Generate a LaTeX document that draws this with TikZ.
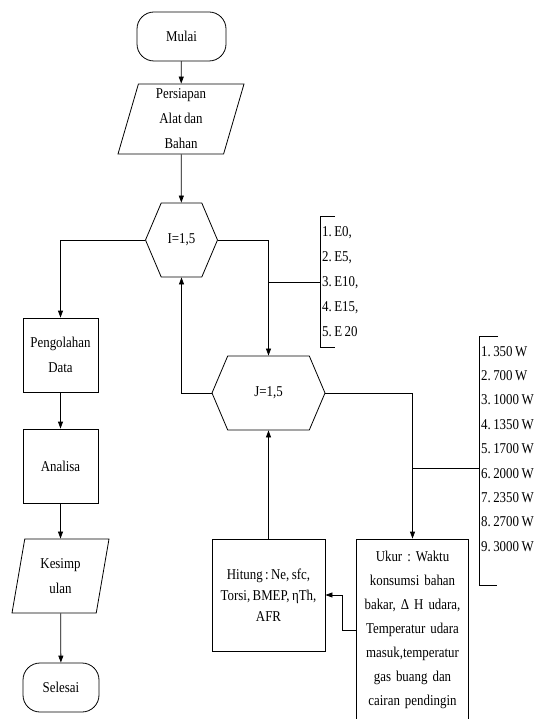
\documentclass[tikz,border=0pt]{standalone}
\usepackage{fontspec}
\setmainfont{Liberation Serif}[FakeStretch=0.86, WordSpace=0.75]
\usepackage{tikz}
\usetikzlibrary{shapes.geometric, shapes.symbols, arrows.meta}
\tikzstyle{flowbox} = [rectangle, draw=black, line width=0.8pt, align=center]
\usetikzlibrary{positioning, calc}
\frenchspacing

\begin{document}
\begin{tikzpicture}[x=1pt, y=-1pt, font=\fontsize{15}{24}\selectfont, >={Triangle[length=7pt,width=5pt]}]
            \tikzstyle{terminal} = [flowbox, rounded corners=17pt, minimum width=89pt, minimum height=49pt]
            \tikzstyle{process} = [flowbox, minimum width=75pt, minimum height=74pt]
            \tikzstyle{io} = [flowbox, trapezium, trapezium left angle=73, trapezium right angle=107, trapezium stretches body, minimum height=70pt, font=\fontsize{15}{25}\selectfont]
            \tikzstyle{loop} = [flowbox, signal, signal to=west and east, signal pointer angle=134, minimum height=74pt]
            \tikzstyle{list} = [align=left, inner xsep=2pt, anchor=west]
            \tikzstyle{line} = [line width=0.8pt]

            \useasboundingbox (0,0) rectangle (536,719);

            \node[terminal] (mulai) at (181.5,36.5) {Mulai};
            \node[io, minimum width=126pt] (persiapan) at (181,119) {Persiapan\\Alat dan\\Bahan};
            \node[loop, minimum width=72pt] (iLoop) at (181.5,240) {I=1,5};
            \node[list, minimum height=131pt, font=\fontsize{15}{25}\selectfont] (eList) at (320,282) {1. E0,\\2. E5,\\3. E10,\\4. E15,\\5. E 20};

            \node[loop, minimum width=113pt] (jLoop) at (268.5,393) {J=1,5};
            \node[list, minimum height=248pt, font=\fontsize{15}{24.4}\selectfont] (wList) at (479,461) {1. 350 W\\2. 700 W\\3. 1000 W\\4. 1350 W\\5. 1700 W\\6. 2000 W\\7. 2350 W\\8. 2700 W\\9. 3000 W\\\mbox{}};
            \coordinate (wJoin) at (412.5,468);

            \node[flowbox, minimum width=113pt, minimum height=112pt, font=\fontsize{15}{21}\selectfont] (hitung) at (268.5,595) {Hitung : Ne, sfc,\\Torsi, BMEP, ηTh,\\AFR};
            \node[flowbox, text width=105pt, minimum height=182pt] (ukur) at (412.5,630) {Ukur : Waktu\\konsumsi bahan\\bakar, Δ H udara,\\Temperatur udara\\masuk,temperatur\\gas buang dan\\cairan pendingin};

            \node[process, font=\fontsize{15}{25}\selectfont] (olah) at (60.5,355) {Pengolahan\\Data};
            \node[process] (analisa) at (60.5,466) {Analisa};
            \node[io, minimum width=97pt, minimum height=74pt] (kesimpulan) at (60.5,576) {Kesimp\\ulan};
            \node[terminal, minimum width=76pt] (selesai) at (61,687.5) {Selesai};

            \draw[line, ->] (mulai) -- (persiapan);
            \draw[line, ->] (persiapan) -- (iLoop);
            \draw[line, ->] (iLoop.west) -| (olah);
            \draw[line, ->] (iLoop.east) -| (jLoop);
            \draw[line] (jLoop.north |- eList.west) -- (eList.west);
            \draw[line] ([xshift=15pt]eList.north west) -- (eList.north west) -- (eList.south west) -- ([xshift=15pt]eList.south west);

            \draw[line, ->] (jLoop.west) -| (iLoop);
            \draw[line, ->] (jLoop.east) -| (ukur);
            \draw[line] (wJoin) -- (wList.west |- wJoin);
            \draw[line] ([xshift=19pt]wList.north west) -- (wList.north west) -- (wList.south west) -- ([xshift=18pt]wList.south west);

            \draw[line, ->] (hitung) -- (jLoop);
            \draw[line, ->] (ukur.west) -- ++(-14,0) |- (hitung);

            \draw[line, ->] (olah) -- (analisa);
            \draw[line, ->] (analisa) -- (kesimpulan);
            \draw[line, ->] (kesimpulan) -- (selesai);

        \end{tikzpicture}
\end{document}
